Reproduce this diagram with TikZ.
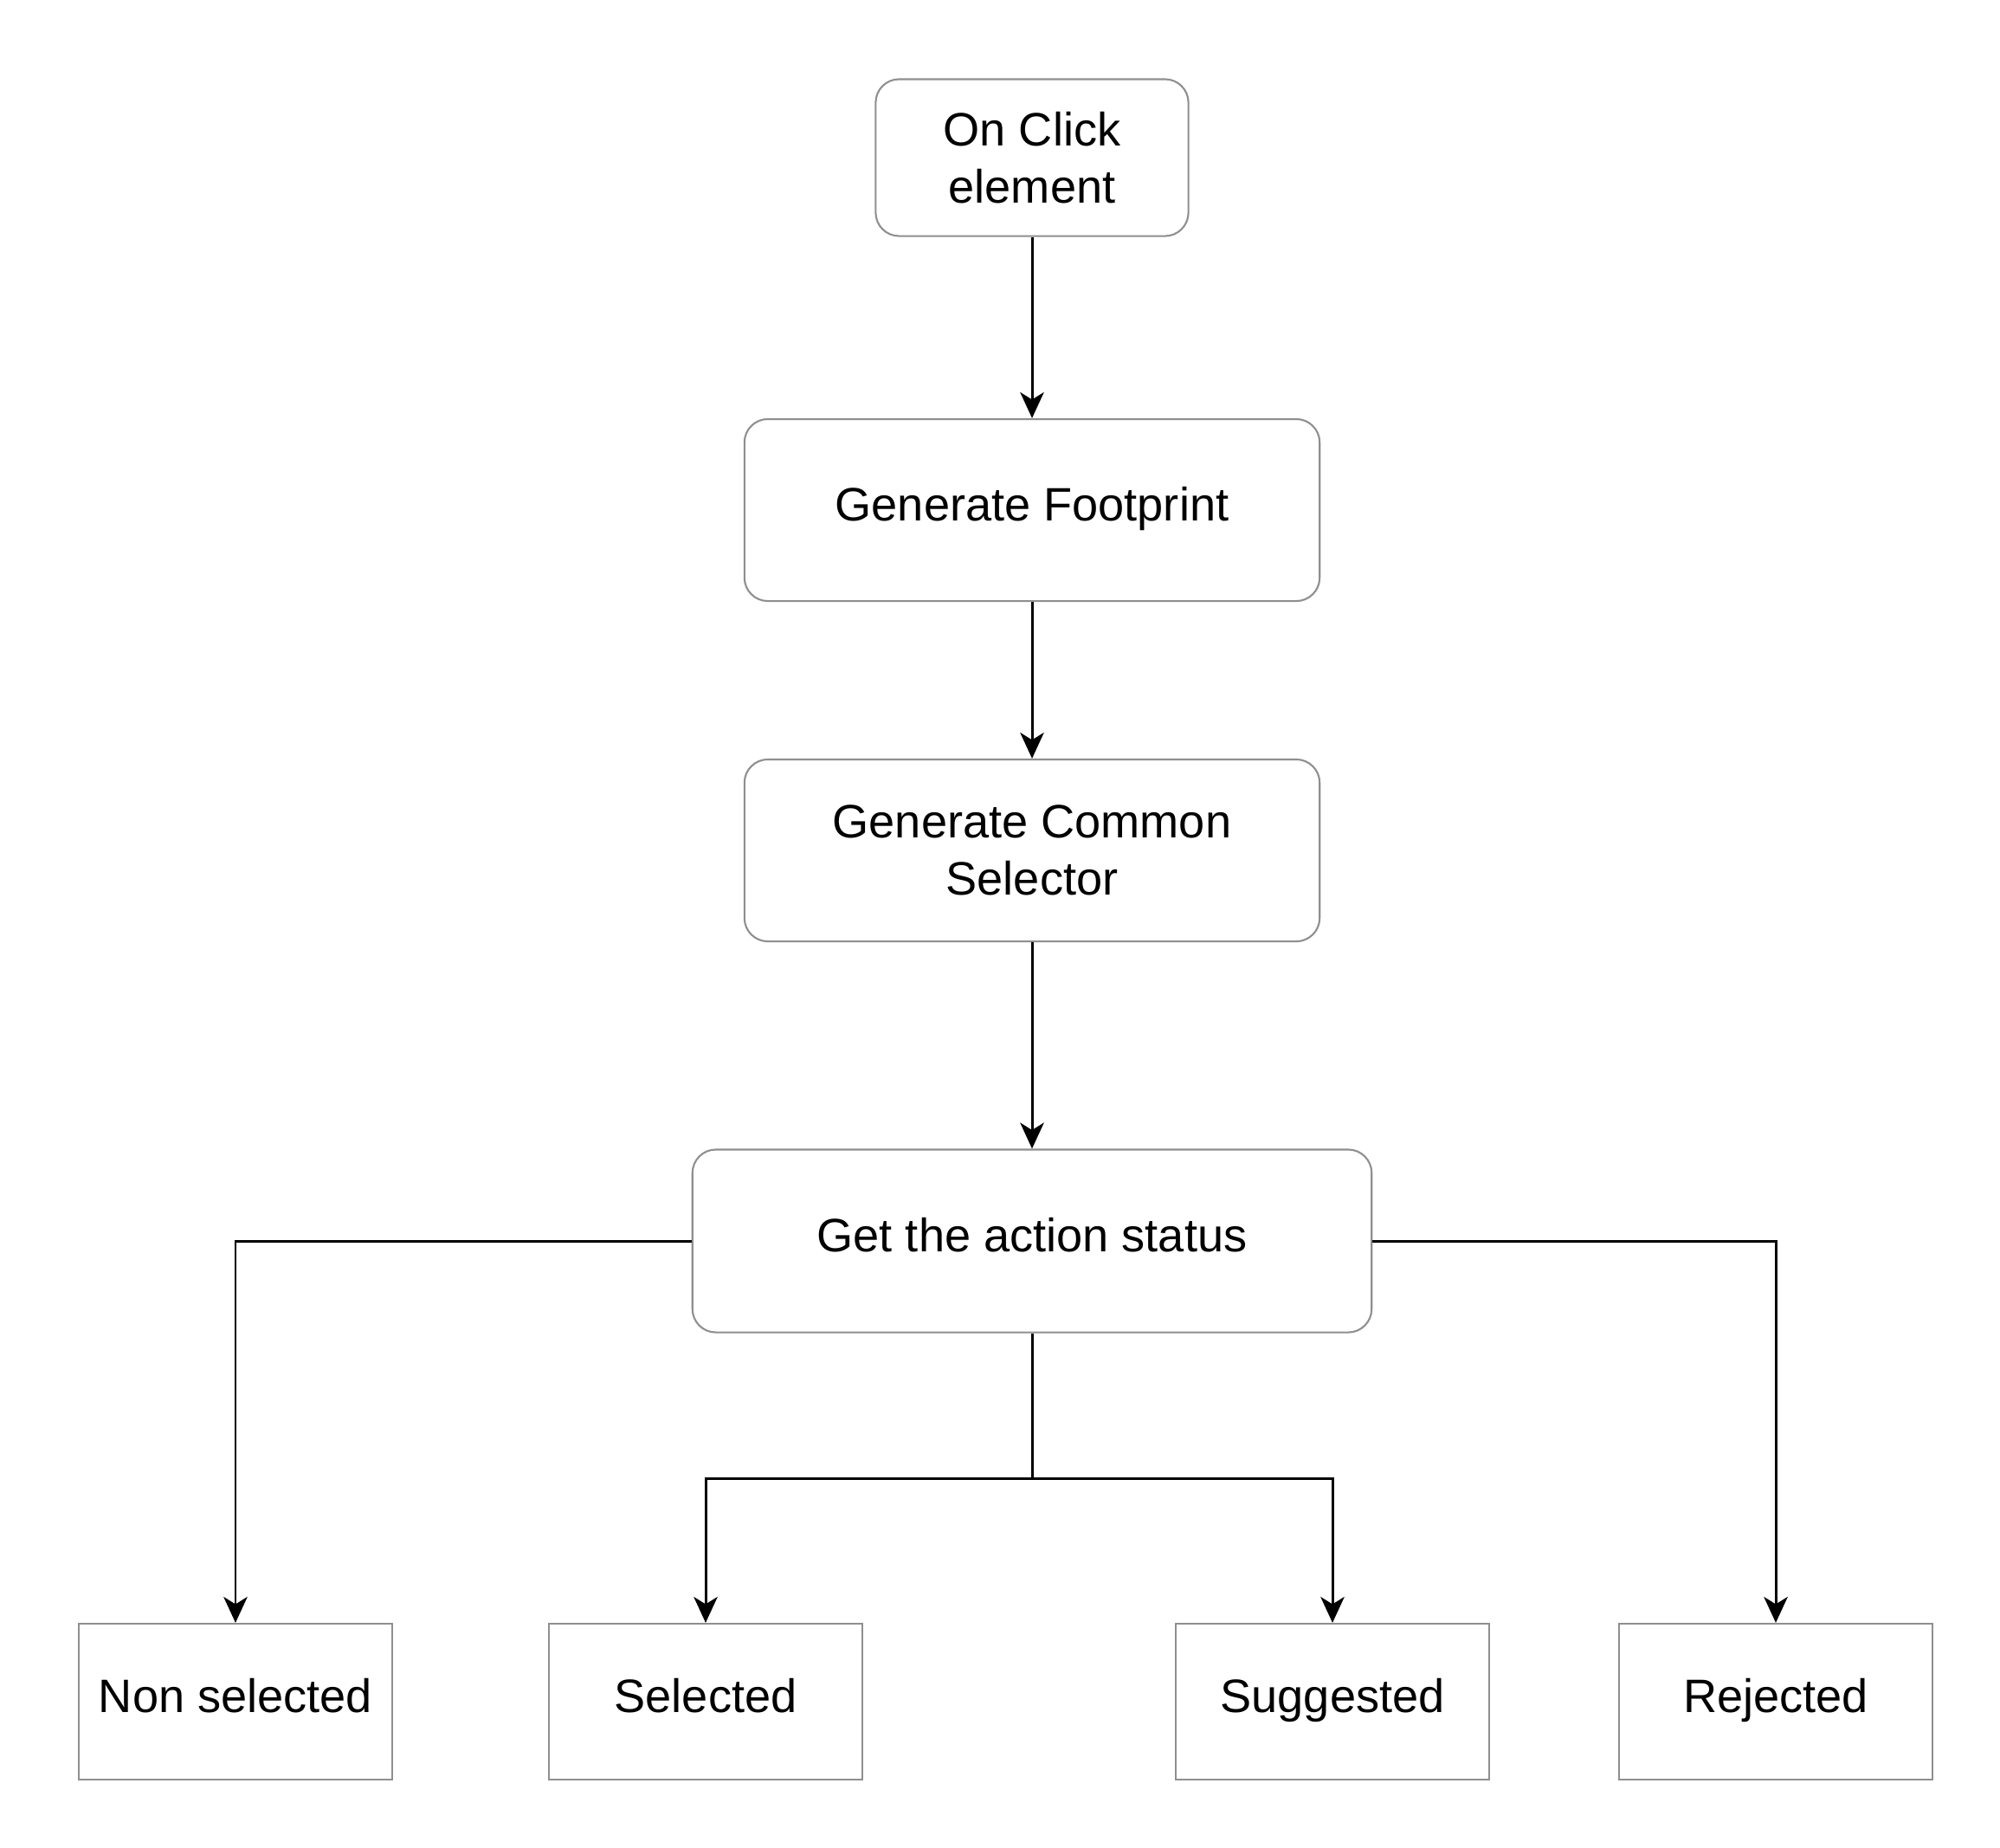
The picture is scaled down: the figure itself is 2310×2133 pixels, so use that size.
\documentclass[tikz,border=0pt]{standalone}
\usepackage{fontspec}
\setmainfont{Liberation Sans}
\usetikzlibrary{arrows.meta}
\definecolor{boxgray}{rgb}{0.56,0.56,0.56}
\begin{document}
\begin{tikzpicture}[x=0.01cm,y=-0.01cm,
  every node/.style={font=\fontsize{15.4}{18.8}\selectfont, align=center, inner sep=0pt},
  oneline/.style={text height=0.72em, text depth=0pt},
  rbox/.style={draw=boxgray, line width=0.6pt, rounded corners=0.27cm, fill=white},
  sbox/.style={draw=boxgray, line width=0.6pt, fill=white, minimum width=3.61cm, minimum height=1.80cm, oneline},
  conn/.style={draw=black, line width=0.85pt, -{Stealth[length=8.5pt,width=7.8pt,inset=2.4pt]}},
  plain/.style={draw=black, line width=0.85pt}]
\useasboundingbox (0,0) rectangle (2310,2133);
\node[rbox, minimum width=3.61cm, minimum height=1.81cm] (top) at (1192,182) {On Click\\element};
\node[rbox, oneline, minimum width=6.64cm, minimum height=2.10cm] (foot) at (1192,589) {Generate Footprint};
\node[rbox, minimum width=6.64cm, minimum height=2.10cm] (common) at (1192,982) {Generate Common\\Selector};
\node[rbox, oneline, minimum width=7.84cm, minimum height=2.11cm] (status) at (1192,1433) {Get the action status};
\node[sbox] (ns) at (272,1965) {Non selected};
\node[sbox] (sel) at (815,1965) {Selected};
\node[sbox] (sug) at (1539,1965) {Suggested};
\node[sbox] (rej) at (2051,1965) {Rejected};
\coordinate (j) at (1192,1707);
\draw[conn] (top) -- (foot);
\draw[conn] (foot) -- (common);
\draw[conn] (common) -- (status);
\draw[conn] (status.west) -| (ns.north);
\draw[conn] (status.east) -| (rej.north);
\draw[plain] (status.south) -- (j);
\draw[conn] (j) -| (sel.north);
\draw[conn] (j) -| (sug.north);
\end{tikzpicture}
\end{document}
